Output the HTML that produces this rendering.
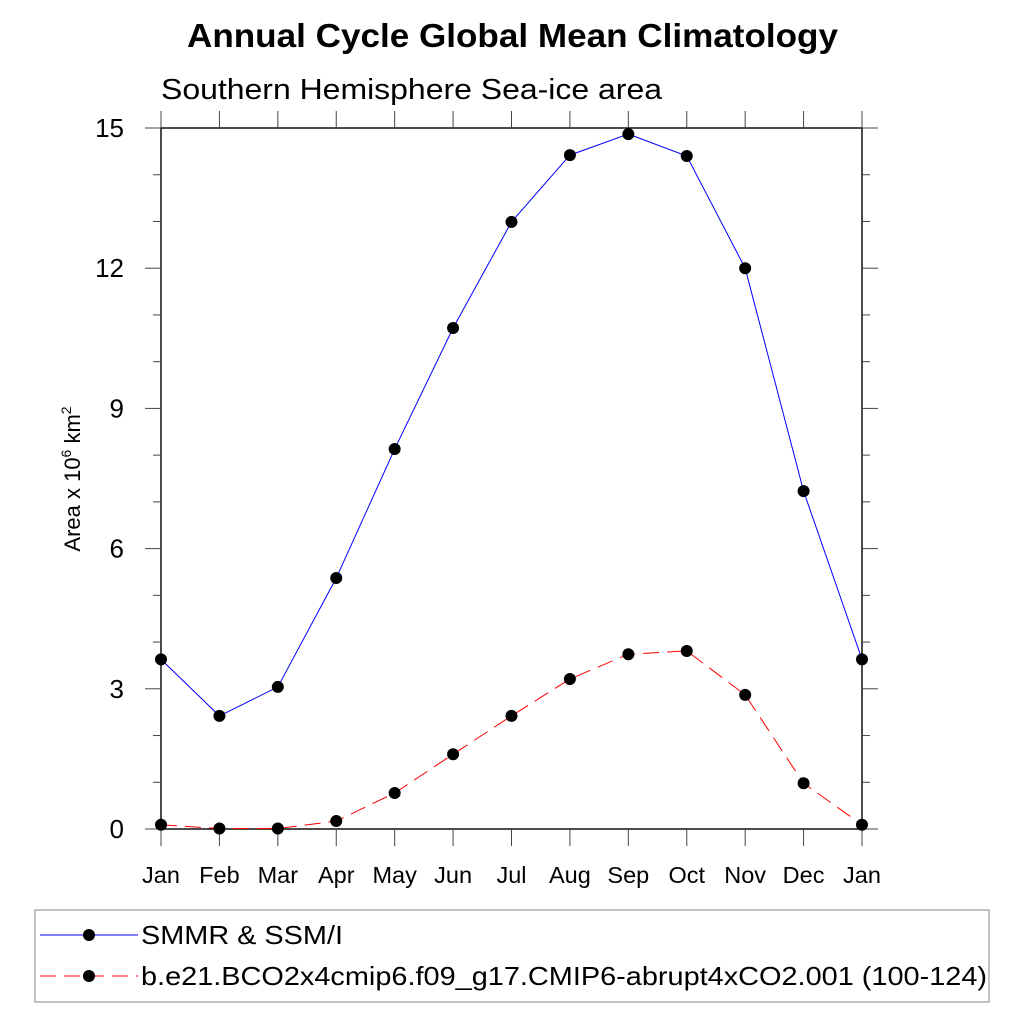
<!DOCTYPE html>
<html><head><meta charset="utf-8"><style>body{margin:0;background:#fff}svg{display:block;font-family:"Liberation Sans",sans-serif}</style></head>
<body>
<svg id="chart" width="1024" height="1024" xmlns="http://www.w3.org/2000/svg">
<text x="187" y="47" font-size="33" font-weight="bold" textLength="651" lengthAdjust="spacingAndGlyphs">Annual Cycle Global Mean Climatology</text>
<text x="161" y="99" font-size="29" textLength="501" lengthAdjust="spacingAndGlyphs">Southern Hemisphere Sea-ice area</text>
<text transform="translate(80,479) rotate(-90)" text-anchor="middle" font-size="22">Area x 10<tspan dy="-9" font-size="14">6</tspan><tspan dy="9"> km</tspan><tspan dy="-9" font-size="14">2</tspan></text>
<g id="axes"></g>
<g id="series"></g>
<rect x="35" y="910" width="954" height="92" fill="none" stroke="#888" stroke-width="1"/>
<line x1="40" y1="935" x2="138" y2="935" stroke="#0000ff" stroke-width="1"/>
<circle cx="89" cy="935" r="6" fill="#000"/>
<text x="141" y="944" font-size="26" textLength="202" lengthAdjust="spacingAndGlyphs">SMMR &amp; SSM/I</text>
<line x1="40" y1="976" x2="138" y2="976" stroke="#ff0000" stroke-width="1" stroke-dasharray="16,8"/>
<circle cx="89" cy="976" r="6" fill="#000"/>
<text x="141" y="985" font-size="26" textLength="846" lengthAdjust="spacingAndGlyphs">b.e21.BCO2x4cmip6.f09_g17.CMIP6-abrupt4xCO2.001 (100-124)</text>
</svg>
<script>
const months = ["Jan","Feb","Mar","Apr","May","Jun","Jul","Aug","Sep","Oct","Nov","Dec","Jan"];
const obsValues = [3.63,2.42,3.04,5.37,8.13,10.72,12.99,14.42,14.87,14.40,12.0,7.23,3.63];
const modelValues = [0.09,0.01,0.01,0.17,0.77,1.60,2.42,3.21,3.74,3.81,2.87,0.98,0.09];
const yTicks = [0,3,6,9,12,15];
const NS="http://www.w3.org/2000/svg";
const L=161,R=862,T=128,B=829,yMax=15;
const x=i=>L+(R-L)*i/(months.length-1);
const y=v=>B-(B-T)*v/yMax;
function mk(tag,attrs,parent){const e=document.createElementNS(NS,tag);for(const k in attrs)e.setAttribute(k,attrs[k]);parent.appendChild(e);return e;}
const ax=document.getElementById('axes');
const frame=mk('rect',{x:L,y:T,width:R-L,height:B-T,fill:'none',stroke:'#000','stroke-width':1.4},ax);


months.forEach((m,i)=>{
  const t1=mk('line',{x1:x(i),x2:x(i),y1:B,y2:B+17,stroke:'#444'},ax);
  
  
  const t2=mk('line',{x1:x(i),x2:x(i),y1:T,y2:T-17,stroke:'#444'},ax);
  
  
  const lb=mk('text',{x:x(i),y:883,'text-anchor':'middle','font-size':23.5},ax);
  lb.textContent=m;
  
  
});
for(let v=0;v<=yMax;v++){
  const major=yTicks.includes(v);const len=major?16:8;
  const a=mk('line',{x1:L,x2:L-len,y1:y(v),y2:y(v),stroke:'#444'},ax);
  
  
  const b=mk('line',{x1:R,x2:R+len,y1:y(v),y2:y(v),stroke:'#444'},ax);
  
  
}
yTicks.forEach(v=>{
  const lb=mk('text',{x:124,y:y(v)+9,'text-anchor':'end','font-size':26},ax);
  lb.textContent=v;
  
  
});
const sg=document.getElementById('series');
function series(vals,color,dash,name){
  const p=mk('polyline',{points:vals.map((v,i)=>x(i)+','+y(v)).join(' '),fill:'none',stroke:color,'stroke-width':1,'stroke-dasharray':dash},sg);
  
  
  vals.forEach((v,i)=>{
    const c=mk('circle',{cx:x(i),cy:y(v),r:6,fill:'#000'},sg);
    
    
  });
}
series(obsValues,'#0000ff','none','obs');
series(modelValues,'#ff0000','16,8','model');
</script>
</body></html>
